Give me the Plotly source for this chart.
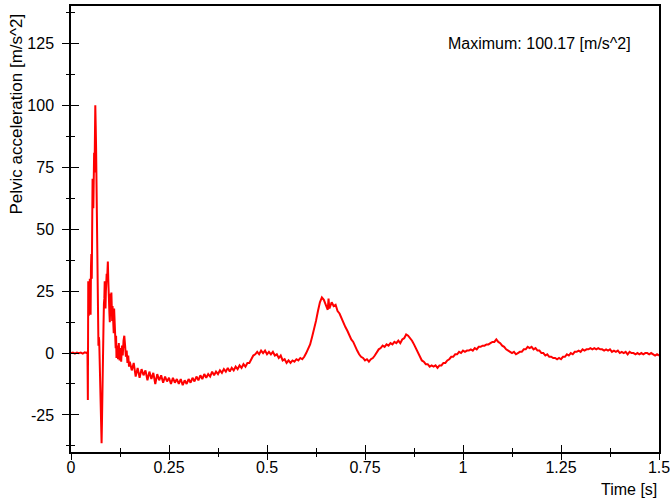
import plotly.graph_objects as go

# ---- data ----
t_impact = [0.000, 0.005, 0.010, 0.015, 0.020, 0.025, 0.030, 0.035, 0.040, 0.042,
            0.043, 0.044, 0.045, 0.046, 0.047, 0.048, 0.049, 0.050, 0.051, 0.052,
            0.053, 0.054, 0.055, 0.056, 0.057, 0.058, 0.059, 0.060, 0.061, 0.062,
            0.063, 0.064, 0.065, 0.066, 0.067, 0.068, 0.069, 0.070, 0.071, 0.072,
            0.073, 0.074, 0.075, 0.076, 0.077, 0.078, 0.079, 0.080, 0.081, 0.082,
            0.083, 0.084, 0.085, 0.086, 0.087, 0.088, 0.089, 0.090, 0.091, 0.092,
            0.093, 0.094, 0.095, 0.096, 0.097, 0.098, 0.099, 0.100, 0.101, 0.102,
            0.103, 0.104, 0.105, 0.106, 0.107, 0.108, 0.109, 0.110, 0.111, 0.112,
            0.113, 0.114, 0.115, 0.116, 0.118, 0.120, 0.122, 0.124, 0.126, 0.128,
            0.130, 0.132, 0.134, 0.136, 0.138, 0.140, 0.142, 0.144, 0.146, 0.148]
a_impact = [0.0, 0.2, -0.2, 0.2, -0.1, 0.2, -0.2, 0.3, 0.0, 0.4,
            -19.0, 29.0, 15.0, 28.5, 16.0, 30.0, 20.0, 15.5, 35.0, 40.0,
            30.0, 55.0, 70.5, 68.0, 58.5, 76.0, 81.0, 73.0, 88.0, 100.17,
            92.0, 83.0, 70.0, 60.0, 45.0, 28.0, 10.0, 3.0, 6.5, 5.0,
            -3.0, -10.0, -15.0, -22.0, -30.0, -36.5, -28.0, -12.0, 0.0, 7.0,
            12.0, 20.0, 22.0, 29.0, 24.0, 18.0, 25.0, 27.0, 32.0, 29.0,
            34.0, 37.0, 30.0, 21.0, 24.0, 16.0, 12.5, 18.0, 24.0, 20.0,
            24.5, 17.0, 13.0, 19.0, 11.0, 14.0, 8.0, 18.0, 12.0, 4.0,
            9.0, 2.0, 7.0, -2.0, 3.0, -2.5, 4.0, -3.0, 2.0, -3.5,
            3.0, -1.0, 5.0, 7.0, 3.0, -1.5, 1.0, -4.0, -1.0, -5.5]

t_late = [0.150, 0.155, 0.160, 0.165, 0.170, 0.175, 0.180, 0.185, 0.190, 0.195,
          0.200, 0.205, 0.210, 0.215, 0.220, 0.225, 0.230, 0.235, 0.240, 0.245,
          0.250, 0.255, 0.260, 0.265, 0.270, 0.275, 0.280, 0.285, 0.290, 0.295,
          0.300, 0.305, 0.310, 0.315, 0.320, 0.325, 0.330, 0.335, 0.340, 0.345,
          0.350, 0.355, 0.360, 0.365, 0.370, 0.375, 0.380, 0.385, 0.390, 0.395,
          0.400, 0.405, 0.410, 0.415, 0.420, 0.425, 0.430, 0.435, 0.440, 0.445,
          0.450, 0.455, 0.460, 0.465, 0.470, 0.475, 0.480, 0.485, 0.490, 0.495,
          0.500, 0.505, 0.510, 0.515, 0.520, 0.525, 0.530, 0.535, 0.540, 0.545,
          0.550, 0.555, 0.560, 0.565, 0.570, 0.575, 0.580, 0.585, 0.590, 0.595,
          0.600, 0.605, 0.610, 0.615, 0.620, 0.625, 0.630, 0.635, 0.640, 0.645,
          0.650, 0.655, 0.657, 0.659, 0.665, 0.670, 0.675, 0.680, 0.685, 0.690,
          0.695, 0.700, 0.705, 0.710, 0.715, 0.720, 0.725, 0.730, 0.735, 0.740,
          0.745, 0.750, 0.755, 0.760, 0.765, 0.770, 0.775, 0.780, 0.785, 0.790,
          0.795, 0.800, 0.805, 0.810, 0.815, 0.820, 0.825, 0.830, 0.835, 0.840,
          0.845, 0.850, 0.855, 0.860, 0.865, 0.870, 0.875, 0.880, 0.885, 0.890,
          0.895, 0.900, 0.905, 0.910, 0.915, 0.920, 0.925, 0.930, 0.935, 0.940,
          0.945, 0.950, 0.955, 0.960, 0.965, 0.970, 0.975, 0.980, 0.985, 0.990,
          0.995, 1.000, 1.005, 1.010, 1.015, 1.020, 1.025, 1.030, 1.035, 1.040,
          1.045, 1.050, 1.055, 1.060, 1.065, 1.070, 1.075, 1.080, 1.085, 1.090,
          1.095, 1.100, 1.105, 1.110, 1.115, 1.120, 1.125, 1.130, 1.135, 1.140,
          1.145, 1.150, 1.155, 1.160, 1.165, 1.170, 1.175, 1.180, 1.185, 1.190,
          1.195, 1.200, 1.205, 1.210, 1.215, 1.220, 1.225, 1.230, 1.235, 1.240,
          1.245, 1.250, 1.255, 1.260, 1.265, 1.270, 1.275, 1.280, 1.285, 1.290,
          1.295, 1.300, 1.305, 1.310, 1.315, 1.320, 1.325, 1.330, 1.335, 1.340,
          1.345, 1.350, 1.355, 1.360, 1.365, 1.370, 1.375, 1.380, 1.385, 1.390,
          1.395, 1.400, 1.405, 1.410, 1.415, 1.420, 1.425, 1.430, 1.435, 1.440,
          1.445, 1.450, 1.455, 1.460, 1.465, 1.470, 1.475, 1.480, 1.485, 1.490,
          1.495, 1.500]
a_late = [-3.5, -7.0, -4.0, -9.5, -6.0, -10.0, -6.5, -9.0, -7.0, -11.0,
          -7.5, -10.5, -8.0, -12.5, -8.5, -11.0, -9.0, -12.0, -9.5, -11.5,
          -10.0, -12.5, -10.0, -12.0, -10.5, -12.5, -10.5, -13.0, -11.0, -12.5,
          -10.5, -12.0, -10.0, -11.5, -9.5, -11.0, -9.0, -10.5, -8.5, -10.0,
          -8.5, -9.5, -7.5, -9.0, -7.5, -8.5, -7.0, -8.0, -6.5, -7.5,
          -6.0, -7.5, -6.0, -7.0, -5.5, -6.5, -5.0, -6.0, -4.5, -5.5,
          -4.0, -4.0, -2.5, -1.0, -0.5, 0.5, -0.5, 1.0, 0.0, 1.0,
          -0.5, 0.5, -0.5, 0.5, -1.0, -0.5, -2.0, -1.0, -3.0, -2.5,
          -4.0, -3.0, -4.0, -3.0, -3.5, -2.5, -3.0, -2.0, -2.5, -1.5,
          0.0, 1.5, 3.5, 6.5, 9.5, 13.0, 17.0, 20.5, 22.5, 21.5,
          19.5, 17.5, 22.0, 18.0, 20.5, 19.0, 19.5, 17.0, 16.0, 14.0,
          12.5, 10.5, 9.0, 7.0, 5.5, 4.5, 2.5, 1.0, -0.5, -1.5,
          -2.0, -3.0, -2.5, -3.5, -2.5, -2.0, -1.0, 0.5, 1.5, 2.0,
          3.0, 2.5, 3.5, 3.0, 4.0, 3.5, 4.5, 4.0, 5.0, 4.0,
          5.5, 6.0, 7.5, 7.0, 6.0, 5.0, 3.5, 2.0, 0.0, -1.5,
          -3.0, -3.5, -4.5, -4.5, -5.5, -5.0, -5.5, -5.0, -6.0, -5.0,
          -5.0, -4.0, -4.0, -3.0, -2.5, -1.5, -1.5, -0.5, -0.5, 0.5,
          0.0, 1.0, 0.5, 1.0, 1.0, 1.5, 1.0, 2.0, 1.5, 2.5,
          2.5, 3.0, 3.0, 3.5, 3.5, 4.0, 4.5, 4.5, 5.5, 4.5,
          4.0, 3.0, 2.5, 1.5, 1.0, 0.5, 0.0, 0.5, -0.5, 0.0,
          0.5, 0.5, 1.5, 1.5, 2.5, 2.0, 2.5, 1.5, 2.0, 1.0,
          1.0, 0.0, 0.0, -1.0, -0.5, -1.5, -1.5, -2.0, -2.0, -2.5,
          -2.0, -2.5, -1.5, -1.5, -0.5, -1.0, 0.0, -0.5, 0.5, 0.5,
          1.0, 0.5, 1.5, 1.0, 1.5, 1.5, 2.0, 1.5, 2.0, 1.5,
          2.0, 1.5, 1.5, 1.0, 1.5, 1.0, 1.5, 0.5, 1.0, 0.5,
          1.0, 0.0, 0.5, 0.0, 0.5, -0.5, 0.5, 0.0, 0.0, -0.5,
          0.0, -0.5, 0.0, -0.5, 0.0, 0.0, -0.5, 0.0, -0.5, -1.0,
          -0.5, -1.0]

x_tickvals = [0, 0.25, 0.5, 0.75, 1, 1.25, 1.5]
x_ticktext = ["0", "0.25", "0.5", "0.75", "1", "1.25", "1.5"]
y_tickvals = [-25, 0, 25, 50, 75, 100, 125]
y_ticktext = ["-25", "0", "25", "50", "75", "100", "125"]

max_label = "Maximum: 100.17 [m/s^2]"
x_title = "Time [s]"
y_title = "Pelvic acceleration [m/s^2]"

t_all = t_impact + t_late
a_all = a_impact + a_late

FONT = "Liberation Sans, Arial, sans-serif"
TXT = "#000000"
FS = 16
X_RANGE = [0, 1.5]
Y_RANGE = [-40, 140.3]

fig = go.Figure()
# carrier trace for the second (same-domain) subplot that draws the outer half of the ticks
fig.add_trace(go.Scatter(x=t_all, y=a_all, mode="lines", xaxis="x2", yaxis="y2",
                         line=dict(color="rgba(0,0,0,0)", width=0),
                         hoverinfo="skip", showlegend=False))
fig.add_trace(go.Scatter(x=t_all, y=a_all, mode="lines",
                         line=dict(color="#ff0000", width=2),
                         hoverinfo="skip", showlegend=False))

common_x = dict(range=X_RANGE, tickvals=x_tickvals, showgrid=False, zeroline=False,
                tickcolor="#000", tickwidth=1, ticklen=7, automargin=False,
                domain=[0, 1])
common_y = dict(range=Y_RANGE, tickvals=y_tickvals, showgrid=False, zeroline=False,
                tickcolor="#000", tickwidth=1, ticklen=8, automargin=False,
                domain=[0, 1])

fig.update_layout(
    width=670, height=502,
    margin=dict(l=71, r=11, t=6, b=50, autoexpand=False),
    paper_bgcolor="white", plot_bgcolor="rgba(0,0,0,0)",
    font=dict(family=FONT, size=FS, color=TXT),
    xaxis=dict(**common_x, ticktext=x_ticktext, ticks="inside", anchor="y",
               showline=True, linecolor="#000", linewidth=1.5, mirror=True,
               minor=dict(dtick=0.125, tick0=0, ticks="inside", ticklen=4,
                          tickcolor="#000", showgrid=False),
               tickfont=dict(family=FONT, size=FS, color=TXT),
               ticklabelstandoff=0, ticklabeloverflow="allow"),
    yaxis=dict(**common_y, ticktext=y_ticktext, ticks="inside", anchor="x",
               showline=True, linecolor="#000", linewidth=1.5, mirror=True,
               minor=dict(dtick=12.5, tick0=0, ticks="inside", ticklen=4,
                          tickcolor="#000", showgrid=False),
               tickfont=dict(family=FONT, size=FS, color=TXT),
               ticklabelstandoff=12, ticklabeloverflow="allow"),
    xaxis2=dict(**common_x, anchor="y2", side="bottom",
                ticks="outside", showticklabels=False, showline=False,
                minor=dict(dtick=0.125, tick0=0, ticks="outside", ticklen=4,
                           tickcolor="#000", showgrid=False)),
    yaxis2=dict(**common_y, anchor="x2", side="left",
                ticks="outside", showticklabels=False, showline=False,
                minor=dict(dtick=12.5, tick0=0, ticks="outside", ticklen=4,
                           tickcolor="#000", showgrid=False)),
    annotations=[
        dict(text=max_label, xref="paper", yref="paper", x=0.956, y=0.917,
             xanchor="right", yanchor="middle", showarrow=False,
             font=dict(family=FONT, size=FS, color=TXT)),
        dict(text=x_title, xref="paper", yref="paper", x=1.0, y=-0.085,
             xanchor="right", yanchor="middle", showarrow=False,
             font=dict(family=FONT, size=FS, color=TXT)),
        dict(text=y_title, xref="paper", yref="paper", x=0, xshift=-54,
             y=0.9865, xanchor="center", yanchor="top", textangle=-90,
             showarrow=False, font=dict(family=FONT, size=17, color=TXT)),
    ],
)

fig.write_html("out.html")
